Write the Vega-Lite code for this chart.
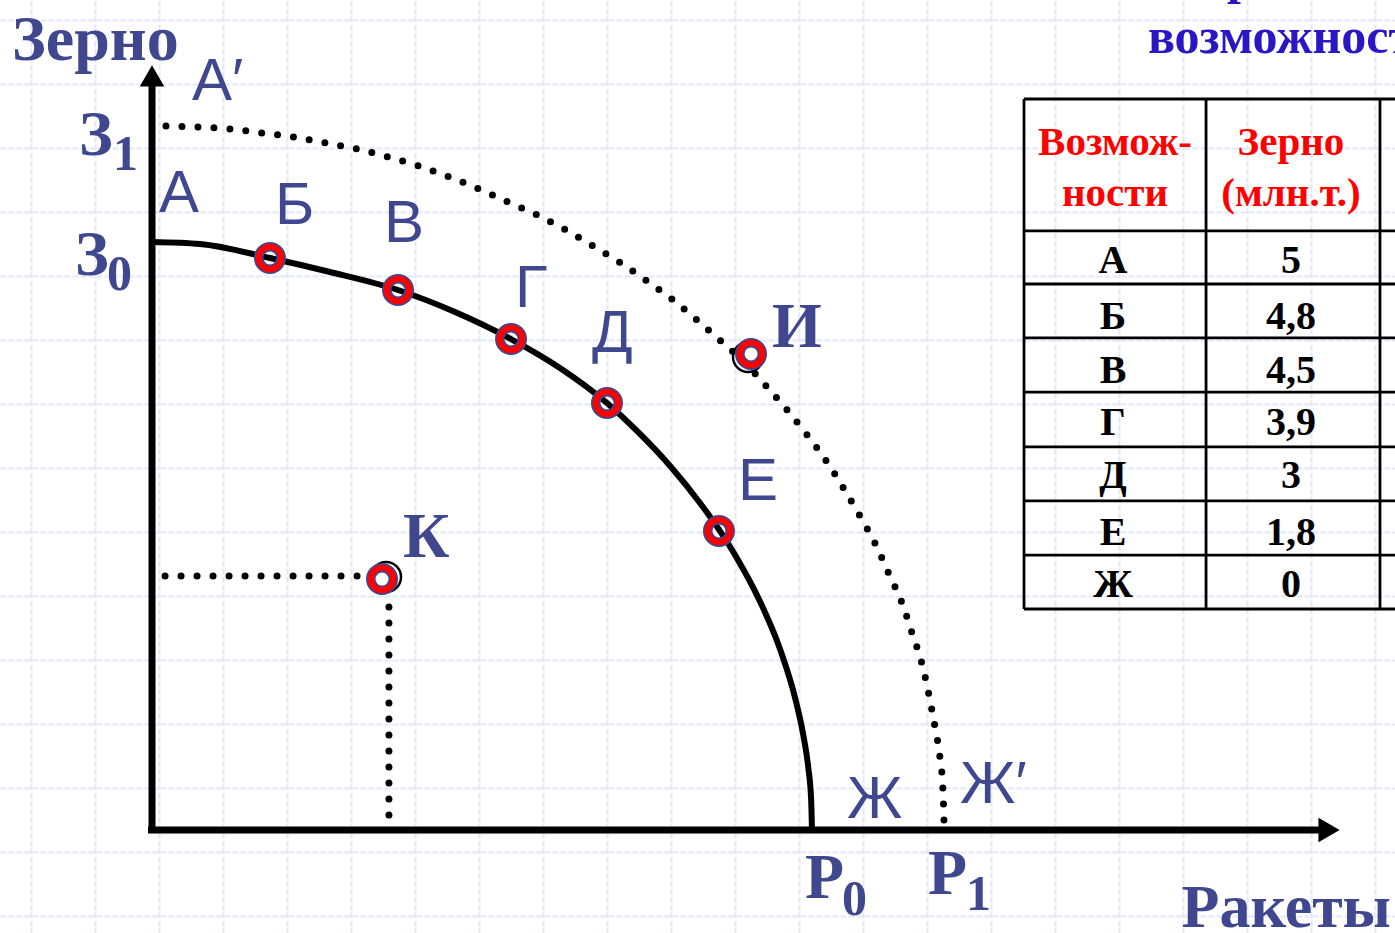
{
  "$schema": "https://vega.github.io/schema/vega-lite/v6.json",
  "width": 1395,
  "height": 933,
  "autosize": {"type": "none"},
  "padding": 0,
  "background": "white",
  "config": {"view": {"stroke": null}},
  "datasets": {
    "curve": [
      {"x": 0, "y": 5.0}, {"x": 0.408, "y": 4.983}, {"x": 1.003, "y": 4.864}, {"x": 1.514, "y": 4.745},
      {"x": 2.092, "y": 4.592}, {"x": 2.577, "y": 4.405}, {"x": 3.053, "y": 4.175}, {"x": 3.469, "y": 3.929},
      {"x": 3.869, "y": 3.631}, {"x": 4.141, "y": 3.376}, {"x": 4.413, "y": 3.087}, {"x": 4.660, "y": 2.781},
      {"x": 4.829, "y": 2.543}, {"x": 4.983, "y": 2.296}, {"x": 5.164, "y": 1.956}, {"x": 5.343, "y": 1.531},
      {"x": 5.473, "y": 1.105}, {"x": 5.538, "y": 0.808}, {"x": 5.580, "y": 0.536}, {"x": 5.605, "y": 0.255},
      {"x": 5.612, "y": 0}
    ],
    "dotted": [
      {"x": 0.119, "y": 5.986}, {"x": 0.400, "y": 5.978}, {"x": 0.672, "y": 5.961}, {"x": 0.935, "y": 5.927},
      {"x": 1.207, "y": 5.893}, {"x": 1.480, "y": 5.842}, {"x": 1.743, "y": 5.791}, {"x": 2.007, "y": 5.723},
      {"x": 2.270, "y": 5.646}, {"x": 2.526, "y": 5.553}, {"x": 2.781, "y": 5.451}, {"x": 3.027, "y": 5.340},
      {"x": 3.274, "y": 5.230}, {"x": 3.520, "y": 5.102}, {"x": 3.750, "y": 4.966}, {"x": 3.988, "y": 4.821},
      {"x": 4.209, "y": 4.668}, {"x": 4.430, "y": 4.507}, {"x": 4.643, "y": 4.328}, {"x": 4.847, "y": 4.150},
      {"x": 5.043, "y": 3.971}, {"x": 5.230, "y": 3.767}, {"x": 5.408, "y": 3.563}, {"x": 5.578, "y": 3.350},
      {"x": 5.740, "y": 3.129}, {"x": 5.884, "y": 2.900}, {"x": 6.020, "y": 2.670}, {"x": 6.156, "y": 2.423},
      {"x": 6.267, "y": 2.177}, {"x": 6.378, "y": 1.930}, {"x": 6.463, "y": 1.675}, {"x": 6.548, "y": 1.412},
      {"x": 6.607, "y": 1.148}, {"x": 6.658, "y": 0.876}, {"x": 6.701, "y": 0.612}, {"x": 6.726, "y": 0.340},
      {"x": 6.735, "y": 0.068}
    ],
    "kdots": [
      {"x": 0.111, "x2": 1.837, "y": 2.160, "y2": 2.160},
      {"x": 2.015, "x2": 2.015, "y": 1.896, "y2": 0.119}
    ],
    "axes": [
      {"x": 0, "x2": 0, "y": -0.026, "y2": 6.369},
      {"x": -0.034, "x2": 9.949, "y": 0, "y2": 0}
    ],
    "arrowUp": [{"x": 0, "y": 6.412}],
    "arrowRight": [{"x": 10.009, "y": 0}],
    "markers": [
      {"p": "Б", "x": 1.003, "y": 4.864}, {"p": "В", "x": 2.092, "y": 4.592}, {"p": "Г", "x": 3.053, "y": 4.175},
      {"p": "Д", "x": 3.869, "y": 3.631}, {"p": "Е", "x": 4.821, "y": 2.543}, {"p": "И", "x": 5.094, "y": 4.048},
      {"p": "К", "x": 1.956, "y": 2.134}
    ],
    "shadows": [
      {"p": "И", "x": 5.068, "y": 4.022}, {"p": "К", "x": 1.990, "y": 2.151}
    ],
    "sansLabels": [
      {"t": "А′", "x": 0.340, "y": 6.207}, {"t": "А", "x": 0.060, "y": 5.255}, {"t": "Б", "x": 1.046, "y": 5.153},
      {"t": "В", "x": 1.973, "y": 5.0}, {"t": "Г", "x": 3.087, "y": 4.447}, {"t": "Д", "x": 3.741, "y": 4.065},
      {"t": "Е", "x": 4.983, "y": 2.806}, {"t": "Ж", "x": 5.910, "y": 0.102}, {"t": "Ж′", "x": 6.871, "y": 0.230}
    ],
    "serifLabels": [
      {"t": "Зерно", "x": -1.190, "y": 6.548}, {"t": "И", "x": 5.272, "y": 4.107}, {"t": "К", "x": 2.134, "y": 2.321},
      {"t": "З", "x": -0.621, "y": 5.740}, {"t": "З", "x": -0.655, "y": 4.719}, {"t": "Р", "x": 5.553, "y": -0.578},
      {"t": "Р", "x": 6.599, "y": -0.544}
    ],
    "axisTitleX": [
      {"t": "Ракеты", "x": 10.536, "y": -0.825}
    ],
    "subscripts": [
      {"t": "1", "x": -0.332, "y": 5.612}, {"t": "0", "x": -0.383, "y": 4.592},
      {"t": "0", "x": 5.867, "y": -0.723}, {"t": "1", "x": 6.922, "y": -0.680}
    ],
    "titleText": [
      {"t": "р", "x": 9.141, "y": 7.117}, {"t": "возможностей", "x": 8.469, "y": 6.607}
    ],
    "tableLines": [
      {"x": 7.415, "x2": 7.415, "y": 1.879, "y2": 6.216},
      {"x": 8.963, "x2": 8.963, "y": 1.879, "y2": 6.216},
      {"x": 10.442, "x2": 10.442, "y": 1.879, "y2": 6.216},
      {"x": 7.415, "x2": 10.6, "y": 6.216, "y2": 6.216},
      {"x": 7.415, "x2": 10.6, "y": 5.094, "y2": 5.094},
      {"x": 7.415, "x2": 10.6, "y": 4.643, "y2": 4.643},
      {"x": 7.415, "x2": 10.6, "y": 4.184, "y2": 4.184},
      {"x": 7.415, "x2": 10.6, "y": 3.724, "y2": 3.724},
      {"x": 7.415, "x2": 10.6, "y": 3.257, "y2": 3.257},
      {"x": 7.415, "x2": 10.6, "y": 2.798, "y2": 2.798},
      {"x": 7.415, "x2": 10.6, "y": 2.338, "y2": 2.338},
      {"x": 7.415, "x2": 10.6, "y": 1.879, "y2": 1.879}
    ],
    "tableHeader": [
      {"t": "Возмож-", "x": 8.189, "y": 5.740}, {"t": "ности", "x": 8.189, "y": 5.31},
      {"t": "Зерно", "x": 9.685, "y": 5.740}, {"t": "(млн.т.)", "x": 9.685, "y": 5.31}
    ],
    "tableBody": [
      {"t": "А", "x": 8.172, "y": 4.736}, {"t": "5", "x": 9.685, "y": 4.736},
      {"t": "Б", "x": 8.172, "y": 4.260}, {"t": "4,8", "x": 9.685, "y": 4.260},
      {"t": "В", "x": 8.172, "y": 3.801}, {"t": "4,5", "x": 9.685, "y": 3.801},
      {"t": "Г", "x": 8.172, "y": 3.359}, {"t": "3,9", "x": 9.685, "y": 3.359},
      {"t": "Д", "x": 8.172, "y": 2.908}, {"t": "3", "x": 9.685, "y": 2.908},
      {"t": "Е", "x": 8.172, "y": 2.423}, {"t": "1,8", "x": 9.685, "y": 2.423},
      {"t": "Ж", "x": 8.172, "y": 1.981}, {"t": "0", "x": 9.685, "y": 1.981}
    ]
  },
  "encoding": {
    "x": {
      "field": "x", "type": "quantitative",
      "scale": {"domain": [-1.2925, 10.5697], "nice": false, "zero": false},
      "axis": {
        "values": [-1.029, -0.485, 0.060, 0.604, 1.148, 1.692, 2.236, 2.781, 3.325, 3.869, 4.413, 4.957, 5.502, 6.046, 6.590, 7.134, 7.678, 8.223, 8.767, 9.311, 9.855, 10.399],
        "grid": true, "gridColor": "#e1e8f8", "gridWidth": 2, "gridDash": [6, 2], "domain": false, "ticks": false, "labels": false,
        "title": null, "minExtent": 0, "maxExtent": 0, "offset": 0
      }
    },
    "y": {
      "field": "y", "type": "quantitative",
      "scale": {"domain": [-0.8759, 7.0578], "nice": false, "zero": false},
      "axis": {
        "values": [6.888, 6.344, 5.799, 5.255, 4.711, 4.167, 3.622, 3.078, 2.534, 1.990, 1.446, 0.901, 0.357, -0.187, -0.731],
        "grid": true, "gridColor": "#e1e8f8", "gridWidth": 2, "gridDash": [6, 2], "domain": false, "ticks": false, "labels": false,
        "title": null, "minExtent": 0, "maxExtent": 0, "offset": 0
      }
    }
  },
  "layer": [
    {
      "data": {"name": "tableLines"},
      "mark": {"type": "rule", "color": "black", "strokeWidth": 2.8},
      "encoding": {"x2": {"field": "x2"}, "y2": {"field": "y2"}}
    },
    {
      "data": {"name": "axes"},
      "mark": {"type": "rule", "color": "black", "strokeWidth": 7},
      "encoding": {"x2": {"field": "x2"}, "y2": {"field": "y2"}}
    },
    {
      "data": {"name": "arrowUp"},
      "mark": {"type": "point", "shape": "triangle-up", "filled": true, "color": "black", "size": 600, "opacity": 1}
    },
    {
      "data": {"name": "arrowRight"},
      "mark": {"type": "point", "shape": "triangle-right", "filled": true, "color": "black", "size": 600, "opacity": 1}
    },
    {
      "data": {"name": "curve"},
      "mark": {"type": "line", "color": "black", "strokeWidth": 6, "interpolate": "monotone"}
    },
    {
      "data": {"name": "dotted"},
      "mark": {"type": "line", "color": "black", "strokeWidth": 7, "interpolate": "monotone", "strokeDash": [0, 16], "strokeCap": "round"}
    },
    {
      "data": {"name": "kdots"},
      "mark": {"type": "rule", "color": "black", "strokeWidth": 7, "strokeDash": [0, 16], "strokeCap": "round"},
      "encoding": {"x2": {"field": "x2"}, "y2": {"field": "y2"}}
    },
    {
      "data": {"name": "shadows"},
      "mark": {"type": "point", "shape": "circle", "filled": false, "color": "black", "strokeWidth": 2.5, "size": 900, "opacity": 1}
    },
    {
      "data": {"name": "markers"},
      "mark": {"type": "point", "shape": "circle", "filled": false, "color": "#3f478f", "strokeWidth": 9.5, "size": 506, "opacity": 1}
    },
    {
      "data": {"name": "markers"},
      "mark": {"type": "point", "shape": "circle", "filled": false, "color": "#ff0000", "strokeWidth": 6, "size": 506, "opacity": 1}
    },
    {
      "data": {"name": "sansLabels"},
      "mark": {"type": "text", "font": "Liberation Sans", "fontSize": 60, "color": "#3f478f", "align": "left", "baseline": "alphabetic"},
      "encoding": {"text": {"field": "t"}}
    },
    {
      "data": {"name": "serifLabels"},
      "mark": {"type": "text", "font": "Liberation Serif", "fontWeight": "bold", "fontSize": 64, "color": "#3f478f", "align": "left", "baseline": "alphabetic"},
      "encoding": {"text": {"field": "t"}}
    },
    {
      "data": {"name": "axisTitleX"},
      "mark": {"type": "text", "font": "Liberation Serif", "fontWeight": "bold", "fontSize": 62, "color": "#3f478f", "align": "right", "baseline": "alphabetic"},
      "encoding": {"text": {"field": "t"}}
    },
    {
      "data": {"name": "subscripts"},
      "mark": {"type": "text", "font": "Liberation Serif", "fontWeight": "bold", "fontSize": 50, "color": "#3f478f", "align": "left", "baseline": "alphabetic"},
      "encoding": {"text": {"field": "t"}}
    },
    {
      "data": {"name": "titleText"},
      "mark": {"type": "text", "font": "Liberation Serif", "fontWeight": "bold", "fontSize": 50, "color": "#2a16c4", "align": "left", "baseline": "alphabetic"},
      "encoding": {"text": {"field": "t"}}
    },
    {
      "data": {"name": "tableHeader"},
      "mark": {"type": "text", "font": "Liberation Serif", "fontWeight": "bold", "fontSize": 41, "color": "#ff0000", "align": "center", "baseline": "alphabetic"},
      "encoding": {"text": {"field": "t"}}
    },
    {
      "data": {"name": "tableBody"},
      "mark": {"type": "text", "font": "Liberation Serif", "fontWeight": "bold", "fontSize": 40, "color": "black", "align": "center", "baseline": "alphabetic"},
      "encoding": {"text": {"field": "t"}}
    }
  ]
}
